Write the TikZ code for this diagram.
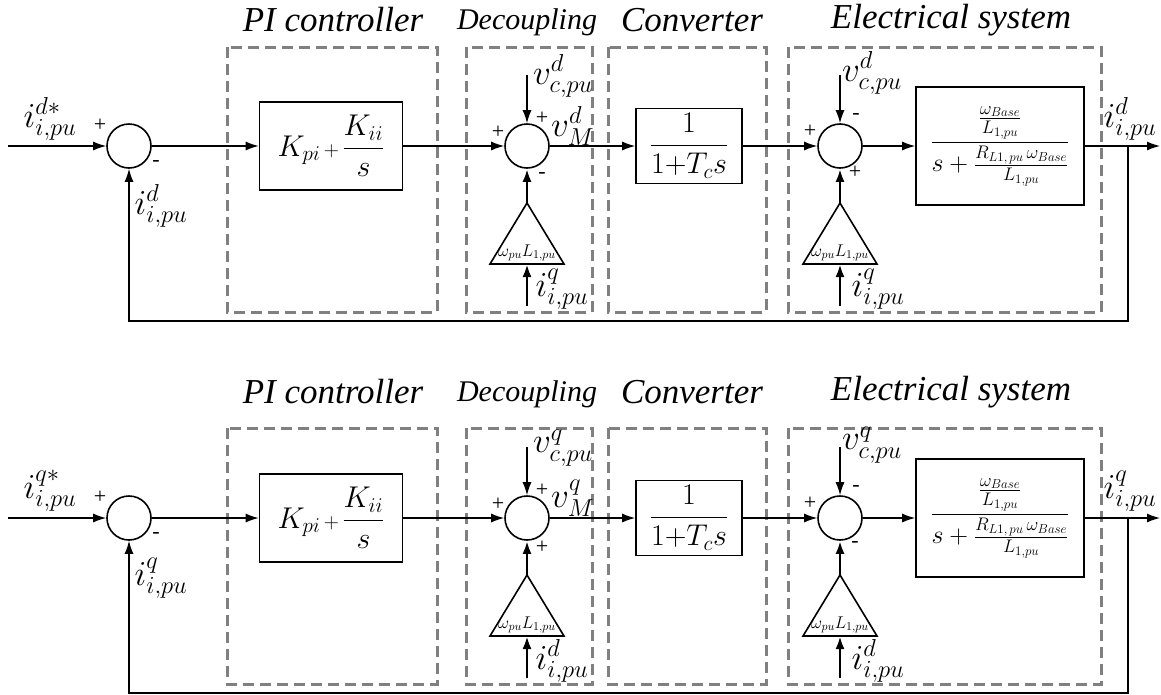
\RequirePackage{fix-cm}
\documentclass[tikz,border=0pt]{standalone}
\usepackage{amsmath}
\usepackage{fontspec}
\setmainfont{Liberation Serif}
\usepackage{tikz}
\usetikzlibrary{arrows.meta,positioning}

\begin{document}
\begin{tikzpicture}[x=1pt, y=-1pt, >={Latex[length=13pt,width=9pt]},
  blk/.style={draw, line width=1.6pt, inner sep=0pt, font=\fontsize{30}{34}\selectfont},
  sumj/.style={circle, draw, line width=1.6pt, minimum size=44pt, inner sep=0pt},
  grp/.style={draw=gray, line width=3pt, dash pattern=on 11pt off 6pt},
  sig/.style={->, line width=1.3pt},
  thk/.style={->, line width=2.6pt},
  ttl/.style={font=\itshape\fontsize{35}{40}\selectfont},
  lbl/.style={font=\fontsize{35}{40}\selectfont, inner sep=0pt},
  sgn/.style={font=\fontsize{22}{24}\selectfont, inner sep=0pt},
  gl/.style={font=\fontsize{17}{19}\selectfont, inner sep=0pt}]

  \useasboundingbox (0,0) rectangle (1161,694);

  \foreach \r/\y/\t/\a/\b/\sb/\sc in {A/146/47/d/q/-/+, B/518/428/q/d/+/-}{
    % ---- dashed groups and titles ----
    \draw[grp] (227,\t) rectangle (437,\y+166);
    \draw[grp] (466,\t) rectangle (592,\y+166);
    \draw[grp] (608,\t) rectangle (766,\y+166);
    \draw[grp] (788,\t) rectangle (1101,\y+166);
    \node[ttl] (tpi\r) at (333,\y-126) {PI controller};
    \node[ttl, font=\itshape\fontsize{30}{34}\selectfont] (tdc\r) at (527,\y-124) {Decoupling};
    \node[ttl] (tcv\r) at (692,\y-126) {Converter};
    \node[ttl] (tel\r) at (951,\y-126) {Electrical system};

    % ---- summing junctions and blocks ----
    \node[sumj] (sin\r) at (129,\y) {};
    \node[sumj] (sdc\r) at (527,\y) {};
    \node[sumj] (sel\r) at (840,\y) {};
    \node[blk, minimum width=143pt, minimum height=88pt] (pi\r) at (331,\y)
      {$K_{pi}{\scriptstyle\,+\,}\dfrac{K_{ii}}{s}$};
    \node[blk, minimum width=106pt, minimum height=75pt] (conv\r) at (689,\y)
      {$\dfrac{1}{1{+}T_c s}$};
    \node[blk, minimum width=168pt, minimum height=118pt, font=\fontsize{26}{30}\selectfont]
      (elec\r) at (1000,\y)
      {$\dfrac{\frac{\omega_{Base}}{L_{1,pu}}}{s+\frac{R_{L1,\,pu}\,\omega_{Base}}{L_{1,pu}}}$};

    % ---- gains ----
    \coordinate (gdc\r) at (527,\y+57);
    \coordinate (bdc\r) at (527,\y+118);
    \draw[line width=1.6pt] (490,\y+118) -- (564,\y+118) -- (gdc\r) -- cycle;
    \node[gl] (kdc\r) at (527,\y+107) {$\omega_{pu}L_{1,pu}$};
    \coordinate (gel\r) at (840,\y+57);
    \coordinate (bel\r) at (840,\y+118);
    \draw[line width=1.6pt] (803,\y+118) -- (877,\y+118) -- (gel\r) -- cycle;
    \node[gl] (kel\r) at (840,\y+107) {$\omega_{pu}L_{1,pu}$};

    % ---- free ends ----
    \coordinate (in\r)  at (8,\y);
    \coordinate (out\r) at (1160,\y);
    \coordinate (br\r)  at (1128,\y);
    \coordinate (vdc\r) at (527,\y-71);
    \coordinate (vel\r) at (840,\y-71);
    \coordinate (idc\r) at (527,\y+160);
    \coordinate (iel\r) at (840,\y+160);

    % ---- forward path ----
    \draw[sig] (in\r) -- (sin\r);
    \draw[sig] (sin\r) -- (pi\r);
    \draw[sig] (pi\r) -- (sdc\r);
    \draw[sig] (sdc\r) -- (conv\r);
    \draw[sig] (conv\r) -- (sel\r);
    \draw[sig] (sel\r) -- (elec\r);
    \draw[sig] (elec\r) -- (out\r);
    \draw[sig] (br\r) -- ++(0,175) -| (sin\r.south);

    % ---- side inputs ----
    \draw[sig] (vdc\r) -- (sdc\r);
    \draw[sig] (vel\r) -- (sel\r);
    \draw[thk] (gdc\r) -- (sdc\r);
    \draw[thk] (gel\r) -- (sel\r);
    \draw[thk] (idc\r) -- (bdc\r);
    \draw[thk] (iel\r) -- (bel\r);

    % ---- labels and signs ----
    \node[lbl] (lin\r) at (50,\y-27) {$i^{\a*}_{i,pu}$};
    \node[sgn] at (100,\y-21) {+};
    \node[sgn] at (156,\y+17) {-};
    \node[lbl] (lfb\r) at (161,\y+60) {$i^{\a}_{i,pu}$};
    \node[sgn] at (498,\y-14) {+};
    \node[sgn] at (542,\y-28) {+};
    \node[sgn] at (542,\y+29) {\sb};
    \node[lbl, anchor=west] (lvm\r) at (551,\y-20) {$v^{\a}_{M}$};
    \node[lbl] (lvd\r) at (563,\y-70) {$v^{\a}_{c,pu}$};
    \node[lbl] (lid\r) at (562,\y+143) {$i^{\b}_{i,pu}$};
    \node[sgn] at (810,\y-15) {+};
    \node[sgn] at (856,\y-30) {-};
    \node[sgn] at (855,\y+26) {\sc};
    \node[lbl] (lve\r) at (872,\y-73) {$v^{\a}_{c,pu}$};
    \node[lbl] (lie\r) at (878,\y+143) {$i^{\b}_{i,pu}$};
    \node[lbl] (lout\r) at (1130,\y-27) {$i^{\a}_{i,pu}$};
  }
\end{tikzpicture}
\end{document}
